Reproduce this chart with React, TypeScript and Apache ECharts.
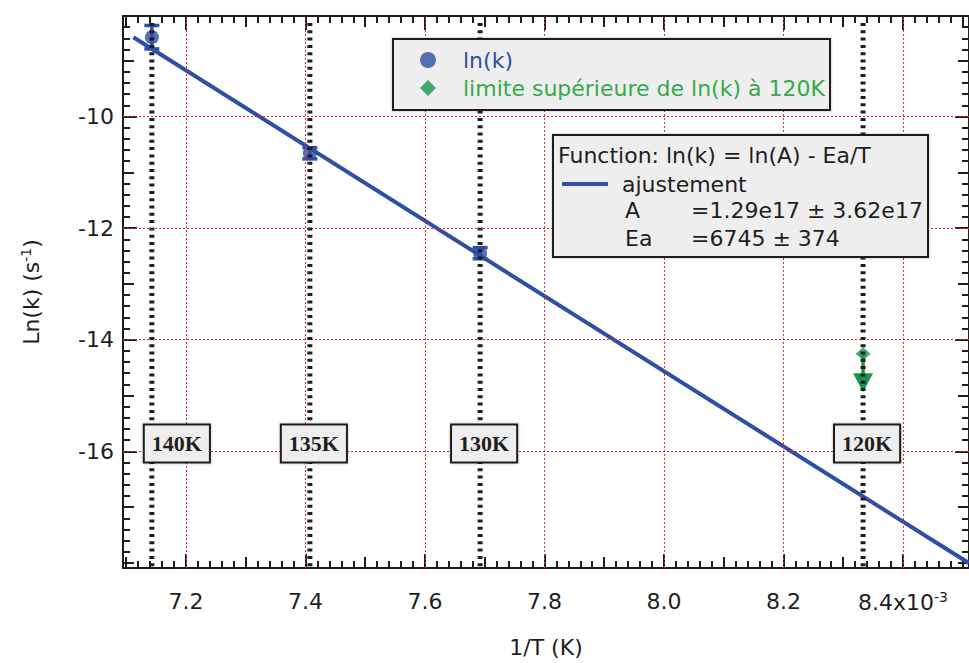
import React, { useEffect, useRef } from "react";
import * as echarts from "echarts";

// ---------- data ----------
const temperatureLabels = ["140K", "135K", "130K", "120K"];
const temperatureInvT = [7.1429, 7.4074, 7.6923, 8.3333]; // 1/T in 10^-3 K^-1

const lnkInvT = [7.1429, 7.4074, 7.6923];
const lnkValues = [-8.58, -10.66, -12.45];
const lnkErrors = [0.21, 0.1, 0.1];

const limitInvT = [8.3333];
const limitValues = [-14.25];
const limitArrowTips = [-14.94];

const fitInvT = [7.112, 8.51];
const fitValues = [-8.58, -18.0];

const xLabelTicks = [7.2, 7.4, 7.6, 7.8, 8.0, 8.2, 8.4];
const xMidTicks = [7.1, 7.3, 7.5, 7.7, 7.9, 8.1, 8.3, 8.5];
const yLabelTicks = [-10, -12, -14, -16];
const yMidTicks = [-9, -11, -13, -15, -17, -18];

const fitTitle = "Function: ln(k) = ln(A) - Ea/T";
const fitParamNames = ["A", "Ea"];
const fitParamValues = ["=1.29e17 ± 3.62e17", "=6745 ± 374"];

const LNK_NAME = "ln(k)";
const LIMIT_NAME = "limite supérieure de ln(k) à 120K";
const FIT_NAME = "ajustement";

// ---------- axis extents ----------
const XMIN = 7.0946;
const XMAX = 8.5106;
const YMIN = -18.09;
const YMAX = -8.2;

// minor tick positions (every 0.02 on x, every 0.2 on y, skipping the larger ticks)
const xMinorTicks: number[] = [];
for (let i = 355; i <= 426; i++) if (i % 5 !== 0) xMinorTicks.push(Math.round(i * 2) / 100);
const yMinorTicks: number[] = [];
for (let i = -41; i >= -91; i--) if (i % 5 !== 0) yMinorTicks.push(i / 5);

// ---------- styles ----------
const FONT = '"DejaVu Sans", sans-serif';
const SERIF = '"Liberation Serif", "DejaVu Serif", serif';
const BLUE = "#2e4fa3";
const GREEN = "#17974a";
const GREEN_TEXT = "#36a94c";
const INK = "#1e1e1e";
const GRID_RED = "#e62a2f";
const BOX_FILL = "#eeeeee";
const LABEL_Y = -15.86;

const MAJOR_LEN = 14;
const MID_LEN = 11;
const MINOR_LEN = 7;
const TICK_W = 2;

function tickAxis(position: string, values: number[], len: number, extra: any = {}) {
  const vertical = position === "left" || position === "right";
  return {
    type: "value",
    position,
    min: vertical ? YMIN : XMIN,
    max: vertical ? YMAX : XMAX,
    axisLine: { show: false, onZero: false },
    axisTick: { show: true, inside: true, length: len, customValues: values, lineStyle: { color: INK, width: TICK_W } },
    axisLabel: { show: false },
    splitLine: { show: false },
    ...extra,
  };
}

const axisLineStyle = { show: true, onZero: false, lineStyle: { color: INK, width: 2 } };
const gridLineStyle = { color: GRID_RED, width: 1, type: [2, 2] };
const boxShadow = { shadowBlur: 3, shadowColor: "rgba(0,0,0,0.28)", shadowOffsetX: 0, shadowOffsetY: 0 };

export default function App() {
  const ref = useRef<HTMLDivElement>(null);

  useEffect(() => {
    if (!ref.current) return;
    const chart = echarts.init(ref.current, null, { renderer: "svg" });

    const option: any = {
      animation: false,
      backgroundColor: "#ffffff",
      grid: { left: 123, top: 16, width: 852, height: 562, containLabel: false },
      xAxis: [
        {
          type: "value",
          position: "bottom",
          min: XMIN,
          max: XMAX,
          splitNumber: 7,
          axisLine: axisLineStyle,
          axisTick: { show: true, inside: true, length: MAJOR_LEN, customValues: xLabelTicks, lineStyle: { color: INK, width: TICK_W } },
          axisLabel: {
            show: true,
            customValues: xLabelTicks,
            margin: 22,
            fontFamily: FONT,
            fontSize: 22,
            color: INK,
            formatter: (v: number) => (Math.abs(v - 8.4) < 1e-6 ? "8.4x10{sup|-3}" : v.toFixed(1)),
            rich: { sup: { fontFamily: FONT, fontSize: 14, color: INK, verticalAlign: "top", padding: [0, 0, 10, 0] } },
          },
          splitLine: { show: false },
          name: "1/T (K)",
          nameLocation: "middle",
          nameGap: 68,
          nameTextStyle: { fontFamily: FONT, fontSize: 22, color: INK },
        },
        tickAxis("bottom", xMidTicks, MID_LEN),
        tickAxis("bottom", xMinorTicks, MINOR_LEN),
        tickAxis("top", xLabelTicks, MAJOR_LEN, { axisLine: axisLineStyle }),
        tickAxis("top", xMidTicks, MID_LEN),
        tickAxis("top", xMinorTicks, MINOR_LEN),
      ],
      yAxis: [
        {
          type: "value",
          position: "left",
          min: YMIN,
          max: YMAX,
          splitNumber: 5,
          axisLine: axisLineStyle,
          axisTick: { show: true, inside: true, length: MAJOR_LEN, customValues: yLabelTicks, lineStyle: { color: INK, width: TICK_W } },
          axisLabel: {
            show: true,
            customValues: yLabelTicks,
            margin: 9,
            fontFamily: FONT,
            fontSize: 22,
            color: INK,
            formatter: (v: number) => String(Math.round(v)),
          },
          splitLine: { show: false },
          name: "Ln(k) (s{sup|-1})",
          nameLocation: "middle",
          nameGap: 80,
          nameTextStyle: {
            fontFamily: FONT,
            fontSize: 22,
            color: INK,
            rich: { sup: { fontFamily: FONT, fontSize: 14, color: INK, verticalAlign: "top", padding: [0, 0, 10, 0] } },
          },
        },
        tickAxis("left", yMidTicks, MID_LEN),
        tickAxis("left", yMinorTicks, MINOR_LEN),
        tickAxis("right", yLabelTicks, MAJOR_LEN, { axisLine: axisLineStyle }),
        tickAxis("right", yMidTicks, MID_LEN),
        tickAxis("right", yMinorTicks, MINOR_LEN),
      ],
      legend: [
        {
          data: [
            { name: LNK_NAME, textStyle: { color: BLUE } },
            { name: LIMIT_NAME, textStyle: { color: GREEN_TEXT } },
          ],
          orient: "vertical",
          left: 420,
          top: 49,
          padding: 0,
          itemWidth: 16,
          itemHeight: 16,
          itemGap: 6,
          selectedMode: false,
          z: 12,
          textStyle: { fontFamily: FONT, fontSize: 22, padding: [0, 0, 0, 22] },
        },
        {
          data: [{ name: FIT_NAME, icon: "rect" }],
          orient: "vertical",
          left: 562,
          top: 173,
          padding: 0,
          itemWidth: 46,
          itemHeight: 4,
          selectedMode: false,
          z: 12,
          textStyle: { fontFamily: FONT, fontSize: 22, color: INK, padding: [0, 0, 0, 9] },
        },
      ],
      graphic: [
        { type: "rect", z: 10, shape: { x: 393, y: 39, width: 437, height: 71 }, style: { fill: BOX_FILL, stroke: INK, lineWidth: 2, ...boxShadow } },
        { type: "rect", z: 10, shape: { x: 553, y: 135, width: 375, height: 122 }, style: { fill: BOX_FILL, stroke: INK, lineWidth: 2, ...boxShadow } },
        {
          type: "text", z: 11, x: 558, y: 155,
          style: { text: fitTitle, fontFamily: FONT, fontSize: 22, fill: INK, verticalAlign: "middle" },
        },
        ...fitParamNames.map((n, i) => ({
          type: "text", z: 11, x: 625, y: 210 + i * 28,
          style: { text: n, fontFamily: FONT, fontSize: 22, fill: INK, verticalAlign: "middle" },
        })),
        ...fitParamValues.map((v, i) => ({
          type: "text", z: 11, x: 691, y: 210 + i * 28,
          style: { text: v, fontFamily: FONT, fontSize: 22, fill: INK, verticalAlign: "middle" },
        })),
      ],
      series: [
        {
          // red dotted grid at the labelled ticks
          type: "line",
          data: [],
          silent: true,
          z: 1,
          markLine: {
            silent: true,
            symbol: "none",
            label: { show: false },
            lineStyle: gridLineStyle,
            emphasis: { disabled: true },
            data: [
              ...xLabelTicks.map((v) => ({ xAxis: v })),
              ...yLabelTicks.map((v) => ({ yAxis: v })),
            ],
          },
        },
        {
          name: FIT_NAME,
          type: "line",
          data: fitInvT.map((x, i) => [x, fitValues[i]]),
          symbol: "none",
          lineStyle: { color: BLUE, width: 4 },
          itemStyle: { color: BLUE },
          z: 2,
          silent: true,
        },
        {
          type: "custom",
          data: lnkInvT.map((x, i) => [x, lnkValues[i], lnkErrors[i]]),
          encode: { x: 0, y: 1 },
          z: 3,
          silent: true,
          renderItem: (_p: any, api: any) => {
            const x = api.value(0);
            const y = api.value(1);
            const e = api.value(2);
            const hi = api.coord([x, y + e]);
            const lo = api.coord([x, y - e]);
            const st = { stroke: BLUE, lineWidth: 3.5 };
            return {
              type: "group",
              children: [
                { type: "line", shape: { x1: hi[0], y1: hi[1], x2: lo[0], y2: lo[1] }, style: st },
                { type: "line", shape: { x1: hi[0] - 7.5, y1: hi[1], x2: hi[0] + 7.5, y2: hi[1] }, style: st },
                { type: "line", shape: { x1: lo[0] - 7.5, y1: lo[1], x2: lo[0] + 7.5, y2: lo[1] }, style: st },
              ],
            };
          },
        },
        {
          name: LNK_NAME,
          type: "scatter",
          data: lnkInvT.map((x, i) => [x, lnkValues[i]]),
          symbol: "circle",
          symbolSize: 14,
          itemStyle: { color: BLUE },
          z: 3,
          silent: true,
        },
        {
          type: "custom",
          data: limitInvT.map((x, i) => [x, limitValues[i], limitArrowTips[i]]),
          encode: { x: 0, y: 1 },
          z: 3,
          silent: true,
          renderItem: (_p: any, api: any) => {
            const x = api.value(0);
            const top = api.coord([x, api.value(1)]);
            const tip = api.coord([x, api.value(2)]);
            const baseY = tip[1] - 19;
            return {
              type: "group",
              children: [
                { type: "line", shape: { x1: top[0], y1: top[1], x2: top[0], y2: baseY }, style: { stroke: GREEN, lineWidth: 3.5 } },
                {
                  type: "polygon",
                  shape: { points: [[tip[0] - 10, baseY], [tip[0] + 10, baseY], [tip[0], tip[1]]] },
                  style: { fill: GREEN },
                },
              ],
            };
          },
        },
        {
          name: LIMIT_NAME,
          type: "scatter",
          data: limitInvT.map((x, i) => [x, limitValues[i]]),
          symbol: "diamond",
          symbolSize: [15, 13],
          itemStyle: { color: GREEN },
          z: 3,
          silent: true,
        },
        {
          type: "custom",
          data: temperatureInvT.map((x) => [x, YMIN]),
          encode: { x: 0, y: 1 },
          z: 5,
          silent: true,
          renderItem: (_p: any, api: any) => {
            const x = api.value(0);
            const top = api.coord([x, YMAX]);
            const bot = api.coord([x, YMIN]);
            return {
              type: "line",
              shape: { x1: top[0], y1: top[1] + 7, x2: bot[0], y2: bot[1] },
              style: { stroke: INK, lineWidth: 5, lineDash: [3, 4.3] },
            };
          },
        },
        {
          type: "custom",
          data: temperatureInvT.map((x) => [x, LABEL_Y]),
          encode: { x: 0, y: 1 },
          z: 6,
          silent: true,
          renderItem: (p: any, api: any) => {
            const c = api.coord([api.value(0), api.value(1)]);
            const dx = p.dataIndex === 0 ? 25 : 4;
            return {
              type: "text",
              x: c[0] + dx,
              y: c[1],
              style: {
                text: temperatureLabels[p.dataIndex],
                fontFamily: SERIF,
                fontWeight: "bold",
                fontSize: 22,
                fill: INK,
                align: "center",
                verticalAlign: "middle",
                backgroundColor: BOX_FILL,
                borderColor: INK,
                borderWidth: 2,
                padding: [8, 7, 6, 7],
                ...boxShadow,
              },
            };
          },
        },
      ],
    };

    chart.setOption(option);
    return () => chart.dispose();
  }, []);

  return (
    <div
      ref={ref}
      style={{ position: "fixed", left: 0, top: 0, width: 969, height: 663, background: "#ffffff", overflow: "hidden" }}
    />
  );
}
